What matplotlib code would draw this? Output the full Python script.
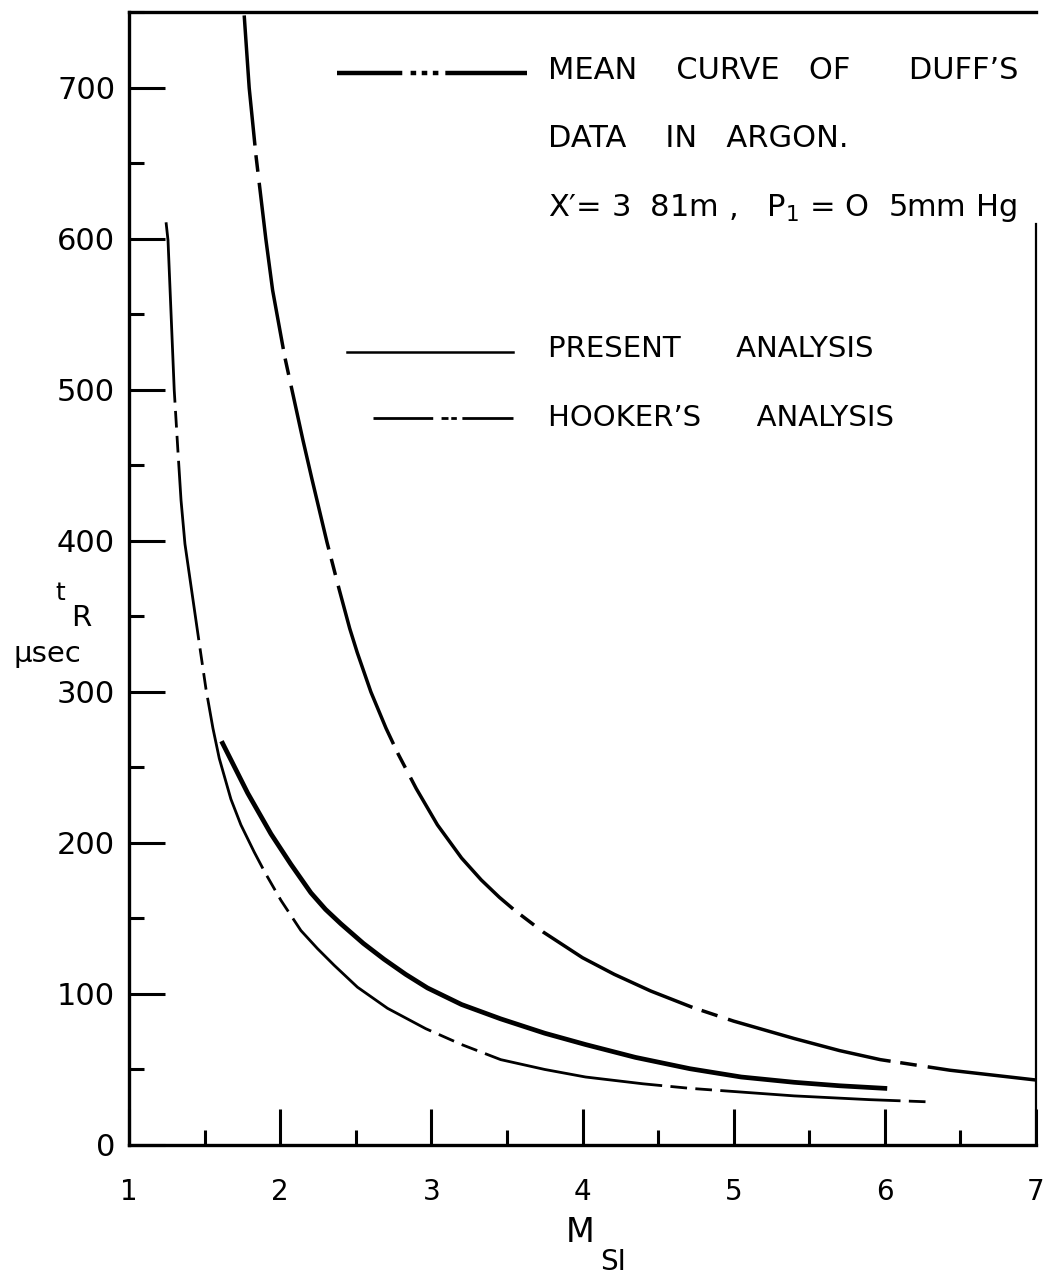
import matplotlib
matplotlib.use("Agg")
import matplotlib.pyplot as plt
from matplotlib.ticker import MultipleLocator

plt.rcParams['font.family'] = ['DejaVu Sans']
plt.rcParams['lines.scale_dashes'] = False
plt.rcParams['mathtext.fontset'] = 'dejavusans'

# mean curve of Duff's data in argon
duff_m = [1.762, 1.795, 1.84, 1.905, 1.95, 2.03, 2.15, 2.21, 2.31, 2.39, 2.46, 2.51,
          2.60, 2.70, 2.78, 2.90, 3.04, 3.20, 3.33, 3.45, 3.55, 3.74, 4.00, 4.21,
          4.45, 4.73, 5.00, 5.40, 5.70, 5.97, 6.43, 7.00]
duff_t = [748, 700, 655, 600, 566, 522, 467, 441, 399, 368, 342, 326,
          300, 276, 259, 236, 212, 190, 175.5, 164, 155.5, 141, 124, 113,
          102, 91, 82, 70.5, 62.5, 56.5, 49.5, 43]

# present analysis
pres_m = [1.619, 1.785, 1.939, 2.07, 2.203, 2.30, 2.401, 2.55, 2.687, 2.83, 2.974,
          3.20, 3.459, 3.75, 4.02, 4.35, 4.71, 5.05, 5.40, 5.70, 6.0]
pres_t = [266, 233, 206, 186, 167, 156, 146.5, 133.5, 123, 113, 104,
          93, 83.5, 74, 66.5, 58, 50.5, 45, 41.5, 39.2, 37.5]

# Hooker's analysis
hook_m = [1.245, 1.258, 1.299, 1.322, 1.344, 1.370, 1.465, 1.509, 1.555, 1.597, 1.674,
          1.740, 1.828, 1.899, 2.005, 2.137, 2.247, 2.357, 2.511, 2.710, 2.963, 3.20,
          3.459, 3.75, 4.02, 4.40, 4.71, 5.40, 5.9, 6.3]
hook_t = [611, 599, 500, 462, 427, 398, 332, 302, 276, 256, 229,
          212, 194, 180.5, 162, 142, 130, 119, 104.5, 90.5, 77, 66.5,
          56.5, 50, 45, 40.5, 37.5, 32.5, 30, 28.5]

xticks = [1, 2, 3, 4, 5, 6, 7]
xlabels = ['1', '2', '3', '4', '5', '6', '7']
yticks = [0, 100, 200, 300, 400, 500, 600, 700]
ylabels = ['0', '100', '200', '300', '400', '500', '600', '700']

fig = plt.figure(figsize=(10.43, 12.79), dpi=100)
ax = fig.add_axes([0.1237, 0.1048, 0.8696, 0.8855])

ax.plot(duff_m, duff_t, color='black', lw=2.5, ls=(27, (121, 7, 12, 8)),
        dash_capstyle='butt')
ax.plot(pres_m, pres_t, color='black', lw=3.4)
ax.plot(hook_m, hook_t, color='black', lw=2.0, ls=(0, (130, 6, 12, 6, 12, 6)),
        dash_capstyle='butt')

ax.set_xlim(1, 7)
ax.set_ylim(0, 750)
ax.set_xticks(xticks)
ax.set_xticklabels(xlabels, fontsize=20)
ax.set_yticks(yticks)
ax.set_yticklabels(ylabels, fontsize=22)
ax.xaxis.set_minor_locator(MultipleLocator(0.5))
ax.yaxis.set_minor_locator(MultipleLocator(50))
ax.tick_params(which='both', direction='in', width=2.2, top=False, right=False)
ax.tick_params(which='major', length=26)
ax.tick_params(which='minor', length=11)
ax.tick_params(axis='x', which='major', pad=24)
ax.tick_params(axis='y', which='major', pad=10)

for side in ['left', 'bottom', 'top']:
    ax.spines[side].set_linewidth(2.4)
ax.spines['right'].set_linewidth(1.6)
ax.spines['right'].set_bounds(0, 610)

# axis titles
fig.text(0.556, 0.036, 'M', fontsize=24, ha='center', va='center')
fig.text(0.588, 0.013, 'SI', fontsize=20, ha='center', va='center')
fig.text(0.058, 0.536, 't', fontsize=18, ha='center', va='center')
fig.text(0.078, 0.517, 'R', fontsize=21, ha='center', va='center')
fig.text(0.045, 0.489, 'μsec', fontsize=21, ha='center', va='center')

# key
kx = ax.transAxes
ax.plot([0.2293, 0.4388], [0.9466, 0.9466], transform=kx, color='black', lw=3.2,
        ls=(0, (47, 6, 4, 4, 4, 4, 4, 5, 70, 10)), dash_capstyle='butt')
ax.plot([0.2404, 0.4234], [0.7002, 0.7002], transform=kx, color='black', lw=1.8)
ax.plot([0.269, 0.4234], [0.642, 0.642], transform=kx, color='black', lw=2.0,
        ls=(0, (43, 6, 5, 2, 4, 4, 45, 5)), dash_capstyle='butt')

tx = 0.462
ax.text(tx, 0.9484, 'MEAN    CURVE   OF      DUFF’S', transform=kx, fontsize=22, va='center')
ax.text(tx, 0.8883, 'DATA    IN   ARGON.', transform=kx, fontsize=22, va='center')
ax.text(tx, 0.8274, 'X′= 3  81m ,   P$_1$ = O  5mm Hg', transform=kx, fontsize=22,
        va='center')
ax.text(tx, 0.7029, 'PRESENT      ANALYSIS', transform=kx, fontsize=21, va='center')
ax.text(tx, 0.642, 'HOOKER’S      ANALYSIS', transform=kx, fontsize=21, va='center')

fig.savefig('out.png', dpi=100)
